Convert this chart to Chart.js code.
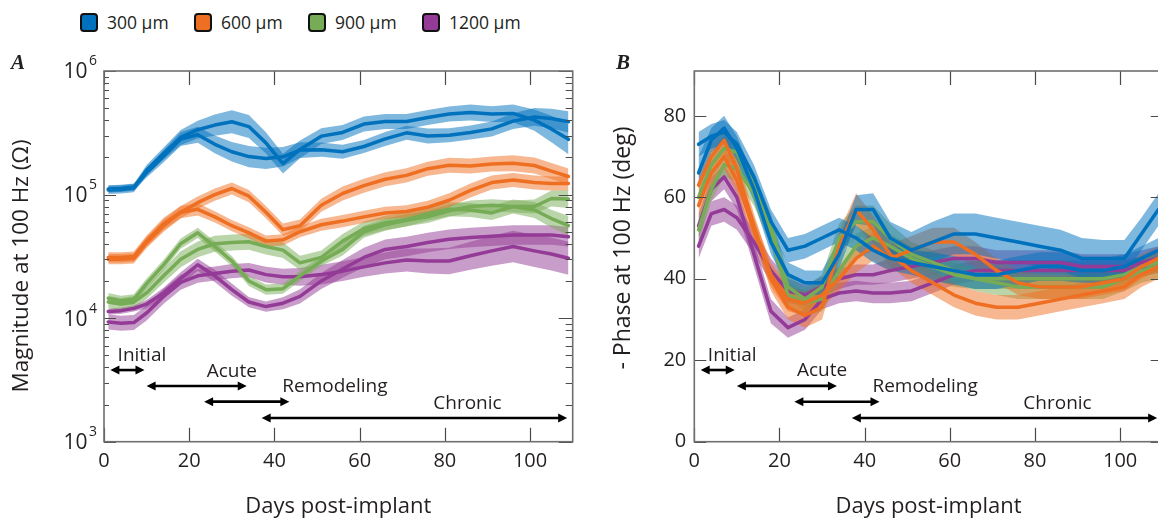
<!DOCTYPE html>
<html>
<head>
<meta charset="utf-8">
<script src="https://cdn.jsdelivr.net/npm/chart.js@4/dist/chart.umd.min.js"></script>
<style>
  html, body { margin: 0; padding: 0; background: #fff; overflow: hidden; }
  #wrap { position: relative; width: 1158px; height: 520px; overflow: hidden; }
  #chartA, #chartB { position: absolute; top: 0; }
  #chartA { left: 0; }
  #chartB { left: 590px; }
  #legend { position: absolute; left: 80px; top: 12px; display: flex; font-family: "Open Sans", sans-serif; font-size: 17.5px; color: #231f20; }
  .item { width: 114px; display: flex; align-items: center; height: 20px; }
  .sw { width: 14px; height: 15px; border: 2px solid #111; border-radius: 4px; margin-right: 9px; flex: none; }
</style>
</head>
<body>
<div id="wrap">
  <div id="legend"></div>
  <canvas id="chartA" width="590" height="520"></canvas>
  <canvas id="chartB" width="590" height="520"></canvas>
</div>
<script>
// sampling days shared by every series
const days = [1, 4, 7, 10, 14, 18, 22, 26, 30, 34, 38, 42, 46, 51, 56, 61, 66, 71, 76, 81, 86, 91, 96, 101, 105, 109];
const depths = ['300 µm', '600 µm', '900 µm', '1200 µm'];

// magnitude at 100 Hz, kOhm (two traces per depth) and band half width in %
const mag300a = [109, 110, 113, 158, 215, 290, 335, 365, 388, 355, 262, 178, 232, 297, 318, 372, 390, 390, 420, 448, 462, 448, 454, 400, 340, 280];
const mag300b = [111, 112, 115, 150, 205, 282, 305, 255, 222, 203, 196, 202, 229, 231, 222, 245, 282, 316, 298, 302, 318, 340, 393, 425, 412, 388];
const mag600a = [31, 31, 31.5, 42, 58, 72, 86, 100, 112, 97, 72, 52, 56, 82, 102, 118, 133, 143, 162, 173, 170, 177, 179, 172, 155, 140];
const mag600b = [30, 30, 30.5, 41, 56, 72, 76, 66, 56, 49, 42, 43, 50, 57, 61, 66, 71, 73, 79, 90, 108, 125, 131, 125, 123, 123];
const mag900a = [14.5, 13.8, 14.2, 19, 27, 40, 49, 38, 29, 20, 17, 17.3, 22, 29, 36, 50, 57, 62, 66, 74, 80, 82, 80, 80, 93, 92];
const mag900b = [13.5, 13, 13.5, 16, 22, 30, 36, 40, 41, 41.5, 38, 35.5, 28, 31, 42, 53, 59, 63, 70, 76, 75, 71, 80, 75, 64, 56];
const mag1200a = [11.3, 11.5, 12, 13, 16, 21, 27, 22, 17, 13.5, 12.4, 13.2, 15, 20, 25, 31, 36, 38, 41, 43.5, 45, 46, 47, 47, 47, 45.5];
const mag1200b = [9.3, 9.1, 9.2, 11, 15, 19.5, 22, 23, 24, 24.5, 22.5, 21.6, 21.6, 22.5, 24, 26, 28, 29.5, 29, 29, 32, 35, 38, 35, 33, 30.5];

const magErr300a = [8, 8, 8, 10, 12, 15, 18, 22, 24, 24, 22, 20, 18, 16, 15, 15, 15, 15, 15, 15, 16, 16, 18, 22, 28, 32];
const magErr300b = [7, 7, 7, 9, 12, 14, 16, 18, 20, 22, 22, 20, 16, 14, 14, 13, 14, 14, 15, 14, 14, 15, 16, 18, 20, 22];
const magErr600a = [10, 10, 10, 11, 12, 12, 12, 12, 12, 12, 12, 12, 12, 13, 14, 14, 14, 14, 14, 15, 15, 15, 16, 16, 16, 16];
const magErr600b = [10, 10, 10, 11, 12, 12, 12, 11, 11, 11, 11, 11, 11, 12, 12, 12, 12, 12, 13, 14, 14, 14, 14, 14, 14, 14];
const magErr900a = [10, 10, 10, 10, 10, 10, 10, 10, 10, 10, 10, 10, 10, 10, 12, 12, 12, 12, 12, 12, 12, 12, 12, 14, 16, 18];
const magErr900b = [12, 12, 12, 12, 14, 16, 16, 16, 16, 16, 16, 16, 14, 14, 14, 14, 14, 14, 14, 14, 14, 14, 14, 16, 18, 20];
const magErr1200a = [6, 6, 6, 8, 10, 12, 12, 12, 12, 10, 10, 12, 14, 16, 18, 20, 20, 20, 20, 20, 20, 20, 20, 20, 20, 20];
const magErr1200b = [15, 15, 15, 15, 15, 15, 14, 14, 14, 14, 16, 16, 18, 20, 20, 20, 22, 24, 26, 28, 30, 32, 34, 35, 36, 36];

// -phase at 100 Hz, degrees, and band half width in degrees
const ph300a = [66, 74, 77, 72, 62, 49, 41, 39, 39, 46, 57, 57, 50, 47, 49, 51, 51, 50, 49, 48, 47, 45, 45, 45, 51, 57];
const ph300b = [73, 75, 76, 73, 65, 54, 47, 48, 50, 52, 50, 47, 45, 44, 43, 42, 41, 41, 42, 43, 43, 42, 42, 43, 45, 47];
const ph600a = [63, 70, 74, 67, 53, 40, 33, 31, 33, 48, 57, 52, 46, 42, 39, 36, 34, 33, 33, 34, 35, 36, 37, 38, 41, 43];
const ph600b = [58, 66, 70, 64, 52, 41, 35, 34, 36, 40, 45, 48, 45, 47, 49, 49, 46, 42, 39, 38, 38, 38, 39, 40, 43, 45];
const ph900a = [60, 68, 72, 71, 63, 53, 38, 35, 38, 50, 54, 54, 50, 46, 44, 42, 40, 39, 38, 38, 38, 38, 38, 40, 42, 43];
const ph900b = [52, 62, 68, 67, 61, 51, 36, 34, 35, 42, 48, 50, 48, 45, 43, 41, 40, 40, 40, 40, 40, 40, 40, 41, 43, 44];
const ph1200a = [53, 62, 65, 60, 46, 32, 28, 30, 35, 36.5, 37, 36.5, 36.5, 37, 39, 41, 42, 42, 42, 42, 42, 42, 42, 42, 43, 44];
const ph1200b = [48, 56, 57, 55, 49, 42, 37, 36, 38, 40, 41, 41, 42, 43, 44, 45, 45, 44, 44, 44, 44, 43, 43, 43, 44, 45];

const phErr300a = [4, 3, 3, 3, 3, 3, 3, 3, 3, 3.5, 3.5, 4, 4, 4.5, 5, 5, 5, 5, 5, 5, 5, 5, 4.5, 4.5, 4, 4];
const phErr300b = [3, 3, 3, 3, 3, 3, 3, 3, 3, 3, 3, 3, 3, 3, 3.5, 3.5, 3.5, 3.5, 3.5, 3.5, 3.5, 3, 3, 3, 3, 3];
const phErr600a = [3, 3, 3, 3, 3, 3, 3, 3, 3, 3.5, 4, 3.5, 3, 3, 3, 3, 3, 3, 3, 3, 3, 3, 3, 3, 3, 3];
const phErr600b = [3, 3, 3, 3, 3, 3, 3, 3, 3, 3, 3.5, 3.5, 3.5, 3.5, 3.5, 3.5, 3, 3, 3, 3, 3, 3, 3, 3, 3, 3];
const phErr900a = [3, 3, 3, 3, 3, 3, 3, 3, 3, 3.5, 4, 4, 3.5, 3, 3, 3, 3, 3, 3, 3, 3, 3, 3, 3, 3, 3];
const phErr900b = [3, 3, 3, 3, 3, 3, 3, 3, 3, 3, 3, 3, 3, 3, 3, 3, 2.5, 2.5, 2.5, 2.5, 2.5, 2.5, 2.5, 2.5, 2.5, 2.5];
const phErr1200a = [3, 3, 3, 3, 3, 3, 2.5, 2.5, 2.5, 2.5, 2.5, 2.5, 2.5, 2.5, 2.5, 2.5, 2.5, 2.5, 2.5, 2.5, 2.5, 2.5, 2.5, 2.5, 2.5, 2.5];
const phErr1200b = [3, 3, 3, 3, 3, 3, 3, 2.5, 2.5, 2.5, 2.5, 2.5, 3, 3, 3, 3, 3, 3, 3, 3, 3, 3, 3, 3, 3, 3];

// axis ticks
const dayTicks = [0, 20, 40, 60, 80, 100];
const magTicks = [1e3, 1e4, 1e5, 1e6];
const magTickExp = ['3', '4', '5', '6'];
const magMinor = [2, 3, 4, 5, 6, 7, 8, 9];
const phaseTicks = [0, 20, 40, 60, 80];

// response phases (days) drawn as double arrows
const phaseNames = ['Initial', 'Acute', 'Remodeling', 'Chronic'];
const phaseStart = [1.5, 10, 23.5, 37];
const phaseEnd = [9.5, 33.5, 43.5, 108.7];
const phaseLabelDay = [8.9, 30, 54.2, 85.3];
const magArrowLevel = [3800, 2820, 2110, 1555];
const phArrowLevel = [17.6, 13.7, 9.8, 5.8];

const lineColors = ['#0072BD', '#EF6F22', '#77AC56', '#933B96'];
const bandColors = ['rgba(0,114,189,0.5)', 'rgba(239,111,34,0.5)', 'rgba(119,172,86,0.5)', 'rgba(147,59,150,0.5)'];
const FONT = '"Open Sans", sans-serif';
const TEXT = '#231f20';

// legend
const legend = document.getElementById('legend');
depths.forEach((d, i) => {
  const it = document.createElement('div');
  it.className = 'item';
  it.innerHTML = '<span class="sw" style="background:' + lineColors[i] + '"></span><span>' + d + '</span>';
  legend.appendChild(it);
});

const magSeries = [
  [mag300a, magErr300a, 0], [mag300b, magErr300b, 0],
  [mag600a, magErr600a, 1], [mag600b, magErr600b, 1],
  [mag900a, magErr900a, 2], [mag900b, magErr900b, 2],
  [mag1200a, magErr1200a, 3], [mag1200b, magErr1200b, 3]
];
const phSeries = [
  [ph300a, phErr300a, 0], [ph300b, phErr300b, 0],
  [ph600a, phErr600a, 1], [ph600b, phErr600b, 1],
  [ph900a, phErr900a, 2], [ph900b, phErr900b, 2],
  [ph1200a, phErr1200a, 3], [ph1200b, phErr1200b, 3]
];

function buildSets(series, val, band) {
  const sets = [];
  series.forEach(([vals, err, c]) => {
    const pts = s => days.map((d, i) => ({ x: d, y: s === 0 ? val(vals[i]) : band(vals[i], err[i], s) }));
    sets.push({ data: pts(-1), borderWidth: 0, borderColor: 'transparent', pointRadius: 0, fill: false, order: 1 });
    sets.push({ data: pts(1), borderWidth: 0, borderColor: 'transparent', pointRadius: 0, fill: '-1', backgroundColor: bandColors[c], order: 1 });
    sets.push({ data: pts(0), borderColor: lineColors[c], borderWidth: 3.5, borderJoinStyle: 'round', borderCapStyle: 'round', pointRadius: 0, fill: false, order: 0 });
  });
  return sets;
}

function arrow(ctx, x1, x2, y) {
  const hl = 9, hw = 4.5;
  ctx.lineWidth = 2.6;
  ctx.beginPath();
  ctx.moveTo(x1 + hl - 1, y); ctx.lineTo(x2 - hl + 1, y);
  ctx.stroke();
  ctx.beginPath();
  ctx.moveTo(x1, y); ctx.lineTo(x1 + hl, y - hw); ctx.lineTo(x1 + hl, y + hw); ctx.closePath();
  ctx.moveTo(x2, y); ctx.lineTo(x2 - hl, y - hw); ctx.lineTo(x2 - hl, y + hw); ctx.closePath();
  ctx.fill();
}

const panelDecor = {
  id: 'panelDecor',
  afterDraw(chart, args, o) {
    const { ctx, chartArea: a } = chart;
    const xs = chart.scales.x, ys = chart.scales.y;
    ctx.save();

    // inward tick marks on all four sides
    ctx.strokeStyle = '#4a4a4a';
    ctx.lineWidth = 1.2;
    ctx.beginPath();
    dayTicks.forEach(d => {
      const px = Math.round(xs.getPixelForValue(d)) + 0.5;
      ctx.moveTo(px, a.bottom); ctx.lineTo(px, a.bottom - 14);
      ctx.moveTo(px, a.top); ctx.lineTo(px, a.top + 14);
    });
    const yTick = (v, l, r) => {
      const py = Math.round(ys.getPixelForValue(v)) + 0.5;
      ctx.moveTo(a.left, py); ctx.lineTo(a.left + l, py);
      ctx.moveTo(a.right, py); ctx.lineTo(a.right - r, py);
    };
    if (o.kind === 'mag') {
      magTicks.forEach((t, k) => {
        yTick(t, 12, 14);
        if (k < magTicks.length - 1) magMinor.forEach(m => yTick(t * m, 5, 7));
      });
    } else {
      phaseTicks.forEach(t => yTick(t, 12, 12));
    }
    ctx.stroke();

    ctx.strokeStyle = '#6f6f6f';
    ctx.lineWidth = 1.6;
    ctx.strokeRect(a.left, a.top, a.right - a.left, a.bottom - a.top);

    ctx.fillStyle = TEXT;
    // power-of-ten labels
    if (o.kind === 'mag') {
      magTicks.forEach((t, k) => {
        const py = ys.getPixelForValue(t) + 1.5;
        ctx.font = '21px ' + FONT;
        ctx.textAlign = 'right';
        ctx.textBaseline = 'middle';
        ctx.fillText('10', a.left - 16.5, py);
        ctx.font = '14px ' + FONT;
        ctx.textAlign = 'left';
        ctx.fillText(magTickExp[k], a.left - 15, py - 11);
      });
    }

    // y axis title
    ctx.save();
    ctx.translate(o.titleX, o.titleY);
    ctx.rotate(-Math.PI / 2);
    ctx.font = o.titleSize + 'px ' + FONT;
    ctx.textAlign = 'center';
    ctx.textBaseline = 'middle';
    ctx.fillText(o.title, 0, 0);
    ctx.restore();

    // panel letter
    ctx.font = 'bold italic 21px "Liberation Serif", serif';
    ctx.textAlign = 'left';
    ctx.textBaseline = 'alphabetic';
    ctx.fillText(o.letter, o.letterX, 69);

    // phase arrows
    const levels = o.kind === 'mag' ? magArrowLevel : phArrowLevel;
    ctx.fillStyle = '#000';
    ctx.strokeStyle = '#000';
    phaseNames.forEach((name, i) => {
      const y = ys.getPixelForValue(levels[i]);
      arrow(ctx, xs.getPixelForValue(phaseStart[i]), xs.getPixelForValue(phaseEnd[i]), y);
      ctx.font = '19px ' + FONT;
      ctx.textAlign = 'center';
      ctx.textBaseline = 'alphabetic';
      ctx.fillStyle = TEXT;
      ctx.fillText(name, xs.getPixelForValue(phaseLabelDay[i]), y - 9.5);
      ctx.fillStyle = '#000';
    });
    ctx.restore();
  }
};

function xAxis() {
  return {
    type: 'linear', min: 0, max: 110,
    afterBuildTicks: s => { s.ticks = dayTicks.map(v => ({ value: v })); },
    ticks: { padding: 8, color: TEXT, font: { family: FONT, size: 20 }, maxRotation: 0, autoSkip: false },
    grid: { display: false, drawTicks: false },
    border: { display: false },
    title: { display: true, text: 'Days post-implant', color: TEXT, font: { family: FONT, size: 22 }, padding: { top: 0, bottom: 0 } },
    afterFit: s => { s.height = 78.3; }
  };
}

function options(yScale, decor) {
  return {
    responsive: false,
    animation: false,
    events: [],
    layout: { padding: { top: 71, right: 17.3, left: 0, bottom: 0 } },
    plugins: { legend: { display: false }, tooltip: { enabled: false }, panelDecor: decor },
    scales: { x: xAxis(), y: yScale }
  };
}

new Chart(document.getElementById('chartA'), {
  type: 'line',
  data: { datasets: buildSets(magSeries, v => v * 1000, (v, e, s) => v * 1000 * Math.pow(1 + e / 100, s)) },
  options: options({
    type: 'logarithmic', min: 1e3, max: 1e6,
    ticks: { display: false },
    grid: { display: false, drawTicks: false },
    border: { display: false },
    afterFit: s => { s.width = 104; }
  }, { kind: 'mag', title: 'Magnitude at 100 Hz (Ω)', titleSize: 22.5, titleX: 21.5, titleY: 266, letter: 'A', letterX: 11 }),
  plugins: [panelDecor]
});

new Chart(document.getElementById('chartB'), {
  type: 'line',
  data: { datasets: buildSets(phSeries, v => v, (v, e, s) => v + s * e) },
  options: options({
    type: 'linear', min: 0, max: 91,
    afterBuildTicks: s => { s.ticks = phaseTicks.map(v => ({ value: v })); },
    ticks: { padding: 8, color: TEXT, font: { family: FONT, size: 20 } },
    grid: { display: false, drawTicks: false },
    border: { display: false },
    afterFit: s => { s.width = 104.3; }
  }, { kind: 'phase', title: '- Phase at 100 Hz (deg)', titleSize: 23, titleX: 33.7, titleY: 248, letter: 'B', letterX: 26 }),
  plugins: [panelDecor]
});
</script>
</body>
</html>
